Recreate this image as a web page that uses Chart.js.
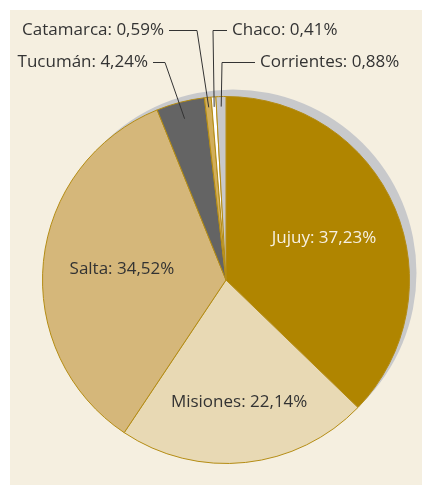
<!DOCTYPE html>
<html>
<head>
<meta charset="utf-8">
<script src="https://cdn.jsdelivr.net/npm/chart.js@4"></script>
<style>
  html, body { margin: 0; padding: 0; background: #ffffff; }
  #wrap { position: relative; width: 423px; height: 486px; }
  #panel { position: absolute; left: 10px; top: 10px; width: 412px; height: 475px; background: #f5efe0; }
  canvas { position: absolute; left: 0; top: 0; }
</style>
</head>
<body>
<div id="wrap">
  <div id="panel"></div>
  <canvas id="pieChart" width="423" height="486"></canvas>
</div>
<script>
// Data
const provinces = ["Jujuy", "Misiones", "Salta", "Tucumán", "Catamarca", "Chaco", "Corrientes"];
const shares = [37.23, 22.14, 34.52, 4.24, 0.59, 0.41, 0.88];
const sliceColors = ["#b08500", "#e8d9b4", "#d5b77a", "#646464", "#d2ae5a", "#ffffff", "#c8c8ca"];

// Label styling: inside labels at a fraction of the radius, outside ones with leader lines
const insideLabels = {
  0: { r: 0.58, color: "#f7f1e2" },
  1: { r: 0.67, color: "#333333" },
  2: { r: 0.57, color: "#333333" }
};
const outsideLabels = {
  3: { depth: 17, elbow: [165, 62], text: [148, 62], align: "right" },
  4: { depth: 10, elbow: [197, 30], text: [164, 30], align: "right" },
  5: { depth: 10, elbow: [213, 30], text: [232, 30], align: "left" },
  6: { depth: 10, elbow: [222, 62], text: [260, 62], align: "left" }
};

const fmt = v => v.toFixed(2).replace(".", ",") + "%";
const FONT = "17px 'Open Sans', Lato, sans-serif";

const shadowPlugin = {
  id: "shadow",
  beforeDatasetsDraw(chart) {
    const arc = chart.getDatasetMeta(0).data[0];
    const ctx = chart.ctx;
    ctx.save();
    ctx.fillStyle = "#c8c9cb";
    ctx.beginPath();
    ctx.arc(arc.x + 7, arc.y - 7, arc.outerRadius, 0, Math.PI * 2);
    ctx.fill();
    ctx.restore();
  }
};

const labelPlugin = {
  id: "labels",
  afterDatasetsDraw(chart) {
    const ctx = chart.ctx;
    const arcs = chart.getDatasetMeta(0).data;
    ctx.save();
    ctx.font = FONT;
    ctx.textBaseline = "middle";
    arcs.forEach((arc, i) => {
      const mid = (arc.startAngle + arc.endAngle) / 2;
      const text = provinces[i] + ": " + fmt(shares[i]);
      if (insideLabels[i]) {
        const s = insideLabels[i];
        const rr = arc.outerRadius * s.r;
        ctx.fillStyle = s.color;
        ctx.textAlign = "center";
        ctx.fillText(text, arc.x + Math.cos(mid) * rr, arc.y + Math.sin(mid) * rr);
      } else if (outsideLabels[i]) {
        const s = outsideLabels[i];
        const rr = arc.outerRadius - s.depth;
        const ax = arc.x + Math.cos(mid) * rr;
        const ay = arc.y + Math.sin(mid) * rr;
        ctx.strokeStyle = "#333333";
        ctx.lineWidth = 1;
        ctx.beginPath();
        ctx.moveTo(s.text[0] + (s.align === "right" ? 5 : -5), s.elbow[1] + 0.5);
        ctx.lineTo(s.elbow[0], s.elbow[1] + 0.5);
        ctx.lineTo(ax, ay);
        ctx.stroke();
        ctx.fillStyle = "#333333";
        ctx.textAlign = s.align;
        ctx.fillText(text, s.text[0], s.text[1]);
      }
    });
    ctx.restore();
  }
};

new Chart(document.getElementById("pieChart"), {
  type: "pie",
  data: {
    labels: provinces,
    datasets: [{
      data: shares,
      backgroundColor: sliceColors,
      borderColor: "#b48c14",
      borderWidth: 1
    }]
  },
  options: {
    responsive: false,
    animation: false,
    layout: { padding: { left: 42, right: 13, top: 96, bottom: 22 } },
    plugins: { legend: { display: false }, tooltip: { enabled: false } }
  },
  plugins: [shadowPlugin, labelPlugin]
});
</script>
</body>
</html>
